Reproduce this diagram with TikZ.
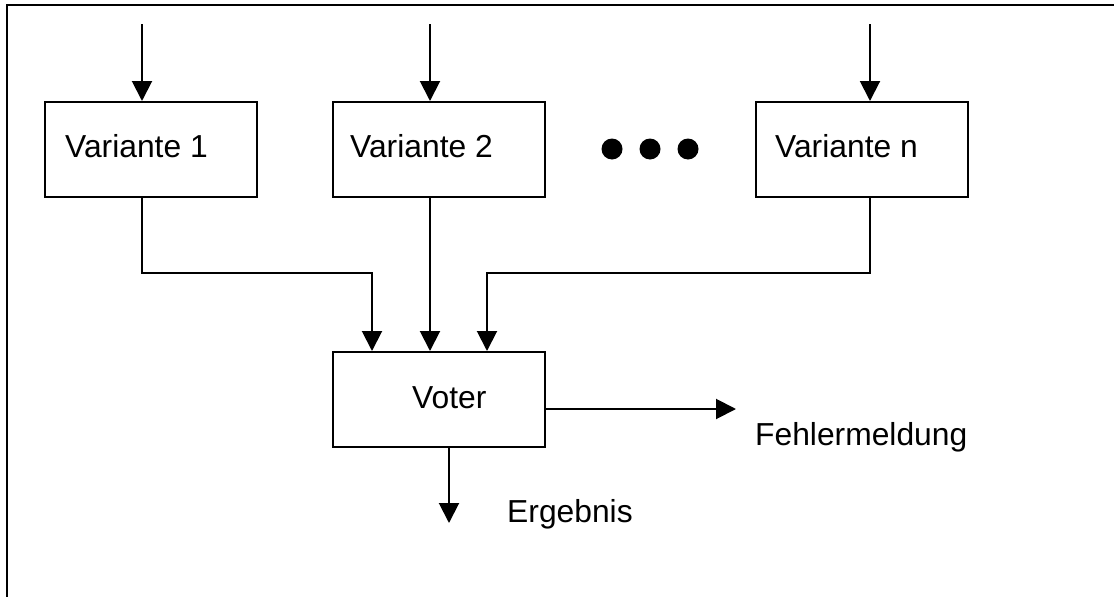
\documentclass[tikz,border=0pt]{standalone}
\usepackage{fontspec}
\setmainfont{Liberation Sans}
\usetikzlibrary{arrows.meta}
\begin{document}
\begin{tikzpicture}[x=1pt,y=-1pt,
  box/.style={draw,line width=2pt,minimum width=212pt,minimum height=95pt,inner sep=0pt},
  lbl/.style={anchor=base west,inner sep=0pt,font=\fontsize{31.8}{38}\selectfont},
  conn/.style={line width=2pt,-{Triangle[length=20pt,width=20pt]}},
  dot/.style={circle,fill=black,minimum size=21pt,inner sep=0pt}]
\useasboundingbox (0,0) rectangle (1114,597);
\clip (0,0) rectangle (1114,597);
\draw[line width=2.2pt] (7,5) rectangle (1125,610);
% boxes
\node[box] (v1) at (151,149.5) {};
\node[box] (v2) at (439,149.5) {};
\node[box] (vn) at (861.5,149.5) {};
\node[box] (voter) at (439,399.5) {};
% labels
\node[lbl] (t1) at (65,157) {Variante 1};
\node[lbl] (t2) at (350,157) {Variante 2};
\node[lbl] (tn) at (775,157) {Variante n};
\node[lbl] (tv) at (412,408) {Voter};
\node[lbl] (tf) at (755,445) {Fehlermeldung};
\node[lbl] (te) at (507,522) {Ergebnis};
% dots
\node[dot] (d1) at (612,149) {};
\node[dot] (d2) at (650,149) {};
\node[dot] (d3) at (688,149) {};
% free ends and joints
\coordinate (in1) at (142,24);
\coordinate (in2) at (430,24);
\coordinate (inn) at (870,24);
\coordinate (j1) at (372,273);
\coordinate (jn) at (487,273);
\coordinate (f) at (736,409);
\coordinate (e) at (449,523);
% inputs
\draw[conn] (in1) -- (in1 |- v1.north);
\draw[conn] (in2) -- (in2 |- v2.north);
\draw[conn] (inn) -- (inn |- vn.north);
% to voter
\draw[conn] (v1.south -| in1) |- (j1) -- (j1 |- voter.north);
\draw[conn] (v2.south -| in2) -- (in2 |- voter.north);
\draw[conn] (vn.south -| inn) |- (jn) -- (jn |- voter.north);
% outputs
\draw[conn] (f -| voter.east) -- (f);
\draw[conn] (voter.south -| e) -- (e);
\end{tikzpicture}
\end{document}
